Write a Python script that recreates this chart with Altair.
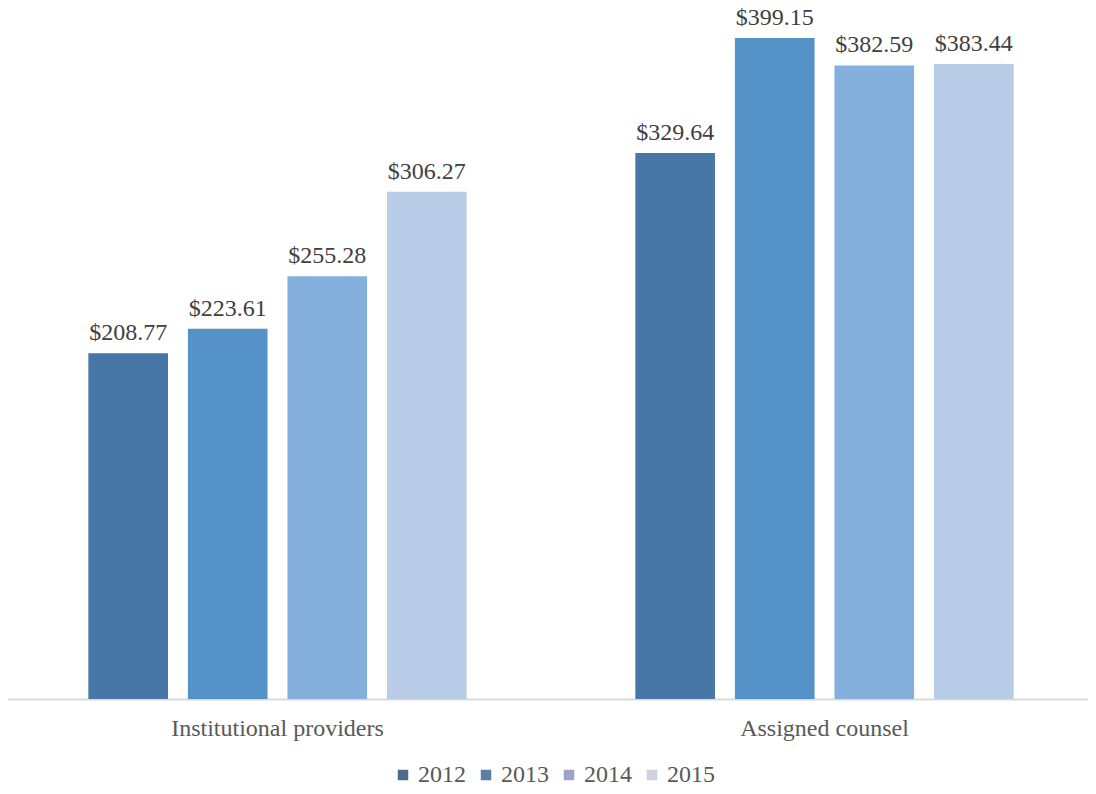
import altair as alt
import pandas as pd

categories = ["Institutional providers", "Assigned counsel"]
years = ["2012", "2013", "2014", "2015"]
values = {
    "Institutional providers": [208.77, 223.61, 255.28, 306.27],
    "Assigned counsel": [329.64, 399.15, 382.59, 383.44],
}
bar_colors = ["#4677a7", "#5592c8", "#85afdc", "#b9cce8"]
legend_colors = ["#4d6a8c", "#5d7da6", "#9ca5c4", "#cdd1e2"]

rows = []
for c in categories:
    for y, v in zip(years, values[c]):
        rows.append({"category": c, "year": y, "value": v})
df = pd.DataFrame(rows)

FONT = "Liberation Serif"

x = alt.X("category:N", sort=categories, title=None,
          scale=alt.Scale(paddingInner=0.272, paddingOuter=0.136),
          axis=alt.Axis(labelAngle=0, labelFont=FONT, labelFontSize=24,
                        labelColor="#595959", labelPadding=17, labelLimit=500,
                        ticks=False, domainColor="#d9d9d9", domainWidth=2))
xo = alt.XOffset("year:N", sort=years,
                 scale=alt.Scale(paddingInner=0.2, paddingOuter=0.1))
y = alt.Y("value:Q", scale=alt.Scale(domain=[0, 410]), axis=None)

bars = alt.Chart(df).mark_bar().encode(
    x=x, xOffset=xo, y=y,
    color=alt.Color("year:N", sort=years,
                    scale=alt.Scale(domain=years, range=bar_colors), legend=None),
)

labels = alt.Chart(df).mark_text(
    font=FONT, fontSize=24, color="#404040", baseline="alphabetic", dy=-13
).encode(x=x, xOffset=xo, y=y, text=alt.Text("value:Q", format="$.2f"))

legend_layer = alt.Chart(df).mark_square(opacity=0).encode(
    color=alt.Color("year:N", sort=years,
                    scale=alt.Scale(domain=years, range=legend_colors),
                    legend=alt.Legend(title=None, orient="none", direction="horizontal",
                                      legendX=387, legendY=743,
                                      symbolType="square", symbolSize=110,
                                      symbolOpacity=1, symbolStrokeWidth=0,
                                      symbolOffset=0,
                                      labelFont=FONT, labelFontSize=24,
                                      labelColor="#595959", labelOffset=3,
                                      columnPadding=8)),
)

chart = alt.layer(bars, labels, legend_layer).resolve_scale(
    color="independent"
).properties(
    width=1094, height=679,
    autosize=alt.AutoSizeParams(type="none"),
    padding={"left": -4, "top": 12, "right": -10, "bottom": 87},
).configure_view(stroke=None)

chart.save("out.html", embed_options={"renderer": "svg", "actions": False})
